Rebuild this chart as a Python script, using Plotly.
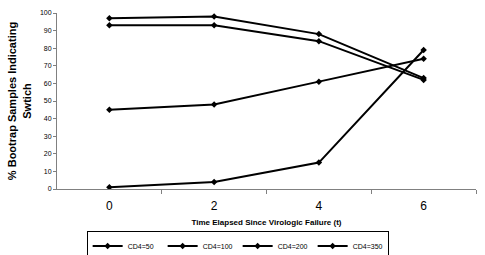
import plotly.graph_objects as go

times = [0, 2, 4, 6]
tick_labels = ["0", "2", "4", "6"]
series_names = ["CD4=50", "CD4=100", "CD4=200", "CD4=350"]
cd4_50 = [97, 98, 88, 63]
cd4_100 = [93, 93, 84, 62]
cd4_200 = [45, 48, 61, 74]
cd4_350 = [1, 4, 15, 79]
all_series = [cd4_50, cd4_100, cd4_200, cd4_350]

fig = go.Figure()
for name, vals in zip(series_names, all_series):
    fig.add_trace(go.Scatter(
        x=times, y=vals, name=name, mode="lines+markers",
        line=dict(color="black", width=2),
        marker=dict(symbol="diamond", size=5, color="black"),
    ))

fig.update_layout(
    width=485, height=255,
    margin=dict(l=57, r=9, t=13, b=66, autoexpand=False),
    paper_bgcolor="white", plot_bgcolor="white",
    font=dict(family="Liberation Sans, Arial, sans-serif", color="black"),
    showlegend=True,
    legend=dict(
        orientation="h", x=0.49, y=0.035, xref="container", yref="container",
        xanchor="center", yanchor="middle",
        bordercolor="black", borderwidth=1, font=dict(size=7),
        itemwidth=30, entrywidth=30, entrywidthmode="pixels",
        tracegroupgap=0,
    ),
)
fig.update_xaxes(
    range=[-1, 7], tickvals=times, ticktext=tick_labels,
    showgrid=False, zeroline=False, showline=True, linecolor="#808080", linewidth=1,
    ticks="", tickfont=dict(size=12), ticklabelstandoff=6,
    minor=dict(tickvals=[1, 3, 5, 7], ticks="outside", ticklen=4, tickcolor="#808080"),
    title=dict(text="<b>Time Elapsed Since Virologic Failure (t)</b>", font=dict(size=8), standoff=6),
)
fig.update_yaxes(
    range=[0, 100], dtick=10, showgrid=False, zeroline=False,
    showline=True, linecolor="#808080", linewidth=1,
    ticks="outside", ticklen=3, tickcolor="#808080", tickfont=dict(size=7),
    title=dict(text="<b>% Bootrap Samples Indicating<br>Swtich</b>", font=dict(size=11), standoff=6),
)

fig.write_html("out.html")
